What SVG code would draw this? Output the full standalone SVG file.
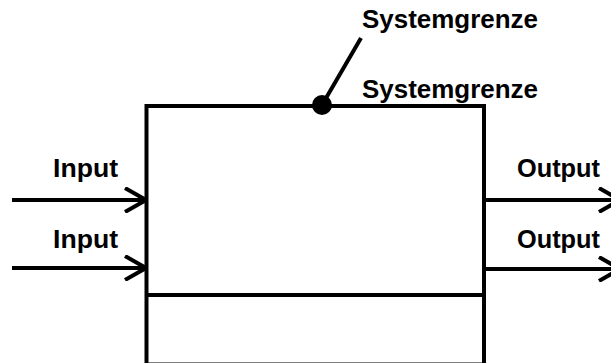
<svg xmlns="http://www.w3.org/2000/svg" width="611" height="363" viewBox="0 0 611 363">
<style>
.lbl{font-family:"Liberation Sans",Arial,sans-serif;font-weight:bold;font-size:26px;fill:#000}
.ln{stroke:#000;stroke-width:4;fill:none}
</style>
<defs>
<marker id="ah" viewBox="0 0 24 26" refX="22" refY="13" markerWidth="24" markerHeight="26" markerUnits="userSpaceOnUse" orient="auto">
<path d="M1,1 L22,13 L1,25" fill="none" stroke="#000" stroke-width="4"/>
</marker>
</defs>
<rect width="611" height="363" fill="#fff"/>
<g id="system">
<rect x="146.5" y="106" width="337.5" height="258.5" class="ln"/>
<line x1="146.5" y1="295" x2="484" y2="295" class="ln"/>
</g>
<g id="labels">
<text class="lbl" x="362" y="28" textLength="176" lengthAdjust="spacingAndGlyphs">Systemgrenze</text>
<text class="lbl" x="362" y="98" textLength="176" lengthAdjust="spacingAndGlyphs">Systemgrenze</text>
<text class="lbl" x="53" y="177" textLength="65" lengthAdjust="spacingAndGlyphs">Input</text>
<text class="lbl" x="53" y="248" textLength="65" lengthAdjust="spacingAndGlyphs">Input</text>
<text class="lbl" x="517" y="177" textLength="83" lengthAdjust="spacingAndGlyphs">Output</text>
<text class="lbl" x="517" y="248" textLength="83" lengthAdjust="spacingAndGlyphs">Output</text>
</g>
<g id="connectors">
<line x1="322" y1="105" x2="361" y2="38" class="ln"/>
<circle cx="322" cy="105" r="10" fill="#000"/>
<line x1="12" y1="200" x2="146" y2="200" class="ln" marker-end="url(#ah)"/>
<line x1="12" y1="268" x2="146" y2="268" class="ln" marker-end="url(#ah)"/>
<line x1="484" y1="200" x2="620" y2="200" class="ln" marker-end="url(#ah)"/>
<line x1="484" y1="269" x2="620" y2="269" class="ln" marker-end="url(#ah)"/>
</g>
</svg>
